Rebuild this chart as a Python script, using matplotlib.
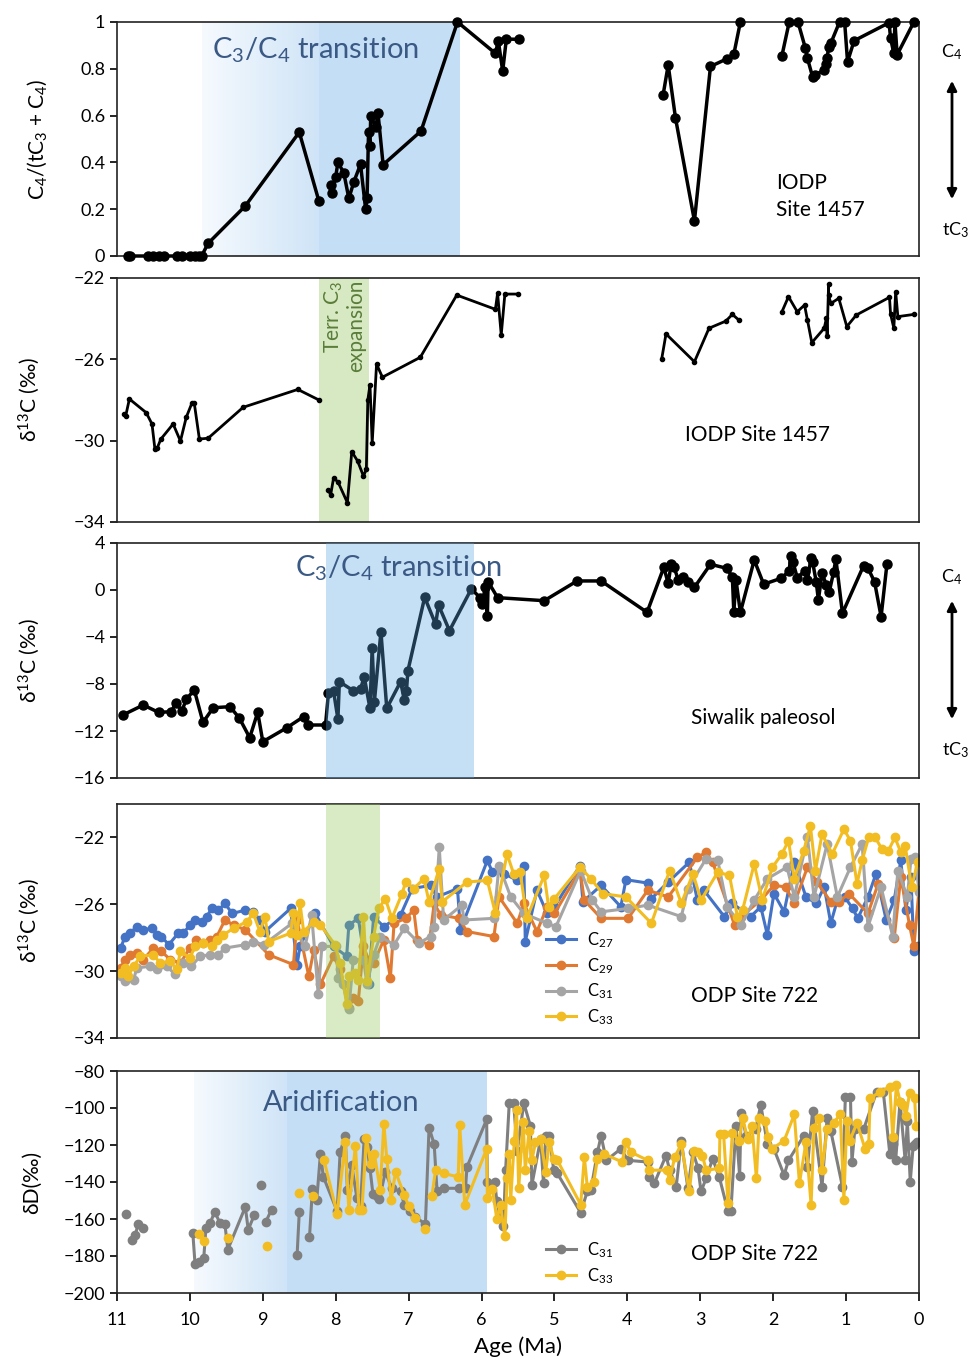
import numpy as np
import matplotlib
matplotlib.use("Agg")
import matplotlib.pyplot as plt
from matplotlib.colors import LinearSegmentedColormap

nan = np.nan

# --- panel 1: C4/(tC3+C4), IODP Site 1457 ---
p1_age = [10.85, 10.82, 10.57, 10.50, 10.43, 10.36, 10.18, 10.11, 10.00, 9.93,
          9.88, 9.84, 9.75, 9.24, 8.50, 8.23, nan, 8.07, 8.05, 8.00,
          7.97, 7.89, 7.82, 7.75, 7.66, 7.59, 7.57, 7.55, 7.53, 7.52,
          7.45, 7.42, 7.35, 6.83, 6.33, 5.81, 5.77, 5.71, 5.66, 5.49,
          nan, 3.51, 3.44, 3.34, 3.08, 2.86, 2.64, 2.54, 2.45, nan,
          1.88, 1.78, 1.66, 1.56, 1.53, 1.46, 1.43, 1.30, 1.27, 1.26,
          1.24, 1.21, 1.09, 1.02, 0.98, 0.89, 0.41, 0.39, 0.345, 0.33,
          0.30, 0.07]
p1_frac = [0, 0, 0, 0, 0, 0, 0, 0, 0, 0,
           0, 0, 0.054, 0.214, 0.529, 0.234, nan, 0.303, 0.268, 0.339,
           0.40, 0.356, 0.246, 0.318, 0.392, 0.20, 0.25, 0.53, 0.47, 0.60,
           0.55, 0.61, 0.39, 0.534, 1.0, 0.866, 0.92, 0.79, 0.927, 0.926,
           nan, 0.688, 0.816, 0.59, 0.15, 0.81, 0.842, 0.862, 1.0, nan,
           0.856, 1.0, 1.0, 0.89, 0.845, 0.766, 0.773, 0.795, 0.82, 0.845,
           0.894, 0.909, 1.0, 1.0, 0.83, 0.92, 0.997, 0.93, 0.866, 1.0,
           0.86, 1.0]

# --- panel 2: d13C, IODP Site 1457 ---
p2_age = [10.90, 10.88, 10.83, 10.60, 10.52, 10.48, 10.45, 10.40, 10.23, 10.13,
          10.05, 9.97, 9.94, 9.87, 9.75, 9.27, 8.52, 8.23, nan, 8.10,
          8.07, 8.03, 7.97, 7.84, 7.78, 7.70, 7.62, 7.58, 7.56, 7.53,
          7.50, 7.44, 7.36, 6.84, 6.34, 5.81, 5.78, 5.73, 5.68, 5.50,
          nan, 3.53, 3.47, 3.08, 2.88, 2.65, 2.56, 2.47, nan, 1.88,
          1.79, 1.67, 1.57, 1.53, 1.47, 1.30, 1.27, 1.26, 1.24, 1.24,
          1.21, 1.10, 0.99, 0.86, 0.405, 0.39, 0.345, 0.32, 0.29, 0.07]
p2_d13c = [-28.70, -28.77, -27.95, -28.62, -29.18, -30.41, -30.38, -29.93, -29.18, -30.02,
           -28.85, -28.13, -28.16, -29.92, -29.88, -28.36, -27.48, -28.0, nan, -32.43,
           -32.67, -31.85, -32.02, -33.05, -30.54, -31.0, -31.74, -31.41, -28.0, -27.26,
           -30.13, -26.23, -26.88, -25.90, -22.84, -23.54, -22.75, -24.80, -22.79, -22.79,
           nan, -26.0, -24.75, -26.12, -24.47, -24.12, -23.79, -24.07, nan, -23.66,
           -22.92, -23.66, -23.33, -24.07, -25.18, -24.47, -23.98, -24.85, -22.30, -22.84,
           -23.25, -23.0, -24.39, -23.82, -22.95, -23.77, -24.47, -22.67, -23.90, -23.79]

# --- panel 3: d13C, Siwalik paleosol ---
p3_age = [10.92, 10.64, 10.43, 10.26, 10.19, 10.11, 10.05, 9.94, 9.82, 9.68,
          9.45, 9.32, 9.18, 9.07, 9.00, 8.67, 8.44, 8.38, 8.14, 8.10,
          8.03, 7.97, 7.95, 7.76, 7.66, 7.61, 7.53, 7.50, 7.47, 7.38,
          7.30, 7.11, 7.06, 7.03, 7.01, 6.78, 6.63, 6.59, 6.44, 6.14,
          6.02, 5.99, 5.95, 5.92, 5.91, 5.78, 5.14, 4.69, 4.36, 3.73,
          3.50, 3.44, 3.40, 3.36, 3.30, 3.24, 3.17, 3.08, 2.86, 2.64,
          2.56, 2.54, 2.51, 2.45, 2.26, 2.13, 1.89, 1.78, 1.76, 1.73,
          1.67, 1.57, 1.53, 1.48, 1.46, 1.41, 1.38, 1.33, 1.27, 1.23,
          1.17, 1.14, 1.05, 0.76, 0.70, 0.61, 0.52, 0.44]
p3_d13c = [-10.64, -9.79, -10.41, -10.36, -9.64, -10.30, -9.30, -8.51, -11.26, -10.02,
           -9.93, -10.92, -12.57, -10.41, -12.91, -11.72, -10.78, -11.49, -11.49, -8.79,
           -8.60, -10.98, -7.80, -8.57, -8.45, -7.38, -10.07, -4.91, -9.51, -3.55,
           -10.07, -7.80, -9.36, -8.60, -6.87, -0.62, -2.92, -1.28, -3.46, 0.09,
           -0.65, -1.22, 0.28, -2.19, 0.71, -0.65, -0.91, 0.77, 0.77, -1.90,
           1.93, 0.57, 2.19, 1.93, 0.85, 1.13, 0.71, 0.23, 2.19, 1.85,
           1.13, -1.90, 0.85, -1.90, 2.55, 0.49, 1.00, 1.62, 2.92, 2.41,
           1.05, 1.62, 0.85, 2.75, 2.41, 0.71, -0.85, 1.42, 0.43, -0.14,
           1.56, 2.64, -1.98, 2.07, 1.85, 0.71, -2.27, 2.19]

# --- panel 4: leaf wax d13C, ODP Site 722 ---
c27_age = [10.95, 10.89, 10.82, 10.73, 10.64, 10.52, 10.45, 10.39, 10.29, 10.16,
           10.09, 10.00, 9.93, 9.84, 9.77, 9.70, 9.61, 9.52, 9.42, 9.24,
           9.13, 9.04, 8.97, 8.62, 8.53, 8.49, 8.28, 8.03, 7.85, 7.82,
           7.69, 7.55, 7.48, 7.34, 7.11, 6.95, 6.70, 6.61, 6.33, 6.29,
           5.92, 5.85, 5.69, 5.51, 5.42, 5.40, 5.24, 5.10,
           5.00, 4.65, 4.61, 4.36, 4.09, 4.02, 3.72, 3.67, 3.44, 3.15,
           3.04, 2.95, 2.67, 2.56, 2.31, 2.17, 2.08, 1.99, 1.85, 1.71,
           1.55, 1.41, 1.30, 1.21, 1.12, 1.02, 0.91, 0.84, 0.70, 0.59,
           0.45, 0.34, 0.25, 0.18, 0.11, 0.07, 0.02]
c27_d13c = [-28.62, -27.93, -27.73, -27.34, -27.53, -27.43, -27.83, -27.93, -28.42, -27.73,
            -27.73, -27.24, -26.94, -27.04, -26.74, -26.25, -26.35, -25.95, -26.55, -26.35,
            -26.45, -26.94, -27.63, -26.25, -29.61, -28.52, -26.55, -28.52, -29.11, -27.24,
            -26.84, -30.79, -26.74, -27.34, -26.64, -25.06, -24.87, -25.56, -25.06, -27.53,
            -23.38, -24.08, -24.17, -24.57, -23.68, -28.23, -25.16, -26.55,
            -26.15, -23.68, -25.85, -24.87, -26.15, -24.53, -24.73, -25.66, -24.67, -23.48,
            -25.75, -25.16, -26.74, -25.95, -26.74, -26.15, -27.83, -25.36, -26.45, -23.48,
            -25.56, -25.95, -24.96, -27.14, -25.75, -25.56, -26.25, -26.84, -25.56, -24.17,
            -26.94, -25.75, -23.38, -26.35, -24.37, -28.82, -28.52]

c29_age = [10.95, 10.89, 10.82, 10.73, 10.64, 10.50, 10.39, 10.27, 10.13, 10.00,
           9.91, 9.82, 9.73, 9.63, 9.52, 9.40, 9.24, 8.92, 8.58, 8.53,
           8.37, 8.30, 8.21, 8.03, 7.94, 7.82, 7.76, 7.69, 7.62, 7.55,
           7.48, 7.34, 7.25, 7.20, 7.04, 6.93, 6.88, 6.72, 6.65, 6.56,
           6.31, 6.20, 5.83, 5.76, 5.51, 5.42, 5.24, 5.10,
           5.00, 4.65, 4.59, 4.36, 3.99, 3.72, 3.44, 3.04, 2.92, 2.83,
           2.53, 2.44, 2.17, 1.99, 1.83, 1.71, 1.53, 1.40, 1.21, 1.10,
           0.96, 0.70, 0.56, 0.34, 0.25, 0.13, 0.07, 0.00]
c29_d13c = [-29.81, -29.31, -29.02, -28.92, -29.31, -28.62, -28.82, -29.31, -29.51, -28.62,
            -28.13, -28.32, -28.13, -27.93, -26.94, -27.24, -27.53, -29.02, -29.61, -26.94,
            -30.30, -28.72, -30.79, -29.11, -29.90, -32.18, -31.58, -31.78, -28.52, -29.31,
            -29.51, -28.13, -30.40, -27.14, -26.84, -26.35, -28.13, -28.42, -25.95, -26.64,
            -26.84, -27.63, -27.93, -25.56, -27.14, -25.95, -27.63, -26.15,
            -26.55, -23.98, -25.75, -26.84, -26.84, -25.16, -25.56, -23.19, -22.89, -23.48,
            -27.24, -26.74, -25.75, -24.87, -24.96, -25.95, -23.78, -24.67, -25.85, -25.85,
            -25.36, -26.55, -24.77, -28.03, -24.37, -27.24, -28.52, -25.16]

c31_age = [10.95, 10.89, 10.77, 10.73, 10.55, 10.45, 10.32, 10.20, 10.09, 9.98,
           9.86, 9.73, 9.61, 9.52, 9.24, 9.13, 8.99, 8.60, 8.42, 8.33,
           8.24, 8.19, 7.99, 7.97, 7.90, 7.82, 7.76, 7.62, 7.57, 7.48,
           7.39, 7.20, 7.06, 6.86, 6.70, 6.65, 6.58, 6.52, 6.27, 6.24,
           5.83, 5.76, 5.60, 5.42, 5.10,
           4.98, 4.64, 4.48, 4.36, 3.99, 3.72, 3.26, 3.17, 2.92, 2.76,
           2.63, 2.44, 2.26, 2.08, 1.81, 1.71, 1.53, 1.44, 1.26, 1.12,
           0.94, 0.78, 0.70, 0.52, 0.36, 0.29, 0.16, 0.11, 0.05, 0.00]
c31_d13c = [-30.30, -30.60, -30.50, -29.81, -29.71, -29.90, -29.71, -30.20, -29.51, -29.71,
            -29.11, -29.02, -29.02, -28.62, -28.42, -28.23, -28.42, -27.14, -28.52, -26.64,
            -31.39, -28.52, -28.52, -30.40, -30.79, -32.28, -29.31, -29.31, -30.79, -29.02,
            -27.93, -28.42, -27.43, -28.32, -27.93, -27.34, -22.59, -26.94, -26.05, -26.94,
            -26.84, -23.68, -25.56, -26.55, -27.14,
            -27.34, -23.98, -25.75, -26.45, -26.25, -26.05, -26.74, -25.06, -23.28, -23.38,
            -26.15, -27.24, -25.75, -24.47, -23.78, -25.56, -22.00, -25.56, -22.40, -25.56,
            -23.78, -22.40, -27.34, -24.96, -27.93, -23.98, -25.56, -23.28, -23.19, -25.26]

c33_age = [10.95, 10.89, 10.85, 10.77, 10.68, 10.50, 10.41, 10.27, 10.18, 10.13,
           10.00, 9.93, 9.82, 9.70, 9.63, 9.54, 9.40, 9.22, 9.13, 9.04,
           8.97, 8.92, 8.62, 8.58, 8.53, 8.49, 8.44, 8.30, 8.21, 8.01,
           7.94, 7.85, 7.82, 7.74, 7.69, 7.62, 7.57, 7.48, 7.41, 7.32,
           7.23, 7.09, 7.04, 6.93, 6.79, 6.72, 6.58, 6.54, 6.20, 5.92,
           5.81, 5.65, 5.56, 5.47, 5.38, 5.14, 5.08,
           5.00, 4.65, 4.50, 4.34, 4.02, 3.67, 3.42, 3.26, 3.10, 2.99,
           2.76, 2.60, 2.49, 2.42, 2.26, 2.15, 2.01, 1.88, 1.79, 1.71,
           1.58, 1.49, 1.42, 1.33, 1.19, 1.03, 0.94, 0.85, 0.78, 0.69,
           0.60, 0.51, 0.42, 0.33, 0.25, 0.19, 0.10, 0.02]
c33_d13c = [-30.10, -29.81, -30.30, -29.71, -29.11, -29.02, -29.51, -29.41, -29.90, -28.82,
            -29.21, -28.52, -28.32, -28.52, -28.13, -27.83, -27.43, -27.04, -26.55, -27.63,
            -26.74, -28.23, -27.73, -26.55, -27.83, -25.95, -27.63, -27.04, -27.24, -28.42,
            -29.51, -31.98, -30.30, -30.10, -30.50, -26.74, -30.60, -27.93, -26.25, -25.66,
            -26.84, -25.36, -24.67, -25.06, -24.47, -25.85, -23.88, -25.85, -24.67, -24.57,
            -26.55, -22.99, -24.17, -24.08, -26.84, -24.27, -26.15,
            -25.66, -23.78, -24.47, -25.36, -25.56, -27.14, -23.98, -25.95, -24.17, -25.75,
            -24.08, -24.27, -26.74, -26.35, -23.58, -25.75, -23.78, -22.99, -22.20, -24.47,
            -22.79, -21.31, -23.98, -21.80, -22.99, -21.51, -22.20, -24.77, -23.38, -22.00,
            -22.00, -22.69, -22.79, -22.00, -22.89, -22.50, -24.96, -23.48]

# --- panel 5: leaf wax dD, ODP Site 722 ---
d31_age = [10.88, nan, 10.80, 10.75, 10.71, 10.65, nan,
           9.96, 9.93, 9.88, 9.81, 9.78, 9.72, 9.66, 9.59, 9.52, 9.48, 9.24, 9.20, 9.12, nan,
           9.03, nan, 8.96, 8.88, nan, 8.53, 8.50, nan,
           8.36, 8.32, 8.26, 8.21, 8.17, 7.98, 7.94, 7.87, 7.84, 7.78,
           7.71, 7.66, 7.61, 7.57, 7.53, 7.49, 7.44, 7.40, 7.32, 7.23,
           7.11, 7.06, 6.98, 6.91, 6.77, 6.72, 6.65, 6.61, 6.52, 6.31,
           6.22, 6.20, 5.93, 5.92, 5.82, 5.79, 5.75, 5.70, 5.67, 5.62,
           5.56, 5.51, 5.42, 5.33, 5.31, 5.19, 5.15, 5.12, 5.07, 5.01,
           4.96, 4.64, 4.55, 4.50, 4.41, 4.36, 4.29, 4.09, 3.99, 3.72,
           3.70, 3.63, 3.47, 3.42, 3.33, 3.26, 3.17, 3.10, 3.03, 2.99,
           2.92, 2.83, 2.74, 2.62, 2.58, 2.51, 2.46, 2.44, 2.37, 2.24,
           2.17, 2.08, 1.99, 1.85, 1.79, 1.58, 1.53, 1.46, 1.33, 1.26,
           1.21, 1.05, 1.01, 0.94, 0.92, 0.88, 0.76, 0.58, 0.49, 0.40,
           0.36, 0.32, 0.26, 0.19, 0.16, 0.12, 0.08, 0.05, 0.03]
d31_dD = [-157.2, nan, -171.2, -168.7, -162.8, -165.0, nan,
          -167.6, -184.1, -183.2, -181.1, -164.6, -162.0, -156.1, -162.0, -162.8, -176.5, -153.5, -165.8, -158.1, nan,
          -141.6, nan, -161.6, -154.9, nan, -179.6, -156.3, nan,
          -169.9, -143.9, -149.6, -124.8, -137.2, -155.8, -123.9, -115.0, -144.2, -131.0,
          -148.7, -153.1, -116.8, -121.2, -132.7, -146.4, -147.8, -149.2, -134.5, -143.4,
          -145.1, -152.2, -155.8, -158.8, -162.8, -110.6, -119.5, -145.1, -143.4, -143.4,
          -143.4, -131.9, -106.2, -139.8, -139.8, -150.4, -157.5, -163.7, -133.6, -97.3,
          -97.3, -123.0, -97.3, -109.7, -141.6, -116.8, -140.7, -115.0, -115.0, -133.6,
          -135.4, -156.6, -145.1, -144.2, -123.9, -115.0, -128.3, -122.1, -128.3, -129.2,
          -137.2, -140.7, -125.7, -133.6, -142.5, -117.7, -143.4, -123.9, -132.7, -145.1,
          -138.1, -127.4, -137.2, -155.8, -155.8, -109.7, -136.8, -102.7, -115.0, -111.5,
          -98.2, -119.5, -122.1, -136.3, -128.3, -115.0, -131.9, -101.8, -142.5, -105.3,
          -112.4, -142.5, -93.8, -93.8, -129.2, -111.5, -111.5, -91.2, -91.2, -124.8,
          -119.5, -128.3, -96.5, -128.3, -107.1, -139.8, -120.4, -119.5, -118.6]

d33_age = [9.87, 9.81, nan, 9.48, nan, 8.94, nan, 8.50, nan, 8.31, nan,
           8.16, 7.98, 7.87, 7.82, 7.73, 7.68, 7.64, 7.58, 7.52, 7.47,
           7.39, 7.34, 7.30, 7.24, 7.18, 7.06, 7.00, 6.91, nan, 6.77, nan,
           6.68, 6.63, 6.52, 6.32, 6.30, 6.23, 5.93, 5.92, 5.85, 5.79,
           5.74, 5.68, 5.65, 5.62, 5.60, 5.55, 5.52, 5.49, 5.43, 5.40,
           5.35, 5.31, 5.26, 5.19, 5.12, 5.07, 5.01, 4.96, 4.64, 4.59,
           4.55, 4.46, 4.41, 4.32, 4.07, 4.02, 3.95, 3.72, 3.70, 3.46,
           3.42, 3.35, 3.26, 3.15, 3.09, 3.03, 2.97, 2.92, 2.74, 2.73,
           2.68, 2.62, 2.56, 2.47, 2.42, 2.35, 2.29, 2.23, 2.19, 2.11,
           2.07, 2.02, 1.85, 1.71, 1.64, 1.55, 1.48, 1.44, 1.37, 1.33,
           1.26, 1.17, 1.08, 1.03, 0.99, 0.95, 0.85, 0.74, 0.69, 0.67,
           0.53, 0.40, 0.36, 0.31, 0.26, 0.22, 0.18, 0.13, 0.06, 0.04]
d33_dD = [-168.1, -172.0, nan, -170.3, nan, -174.7, nan, -146.0, nan, -147.8, nan,
          -128.3, -157.2, -118.6, -154.9, -120.4, -154.9, -154.9, -116.3, -130.1, -124.8,
          -144.2, -108.5, -127.4, -149.6, -134.5, -146.9, -153.1, -159.3, nan, -165.5, nan,
          -147.4, -133.3, -135.4, -137.2, -109.2, -152.2, -122.1, -148.7, -143.9, -160.2,
          -152.6, -169.4, -138.1, -124.8, -149.6, -117.7, -100.9, -143.4, -107.4, -133.6,
          -112.7, -128.3, -118.6, -116.8, -134.5, -118.6, -127.4, -128.3, -152.2, -126.5,
          -142.5, -139.8, -127.4, -124.8, -129.2, -118.6, -123.9, -128.3, -133.6, -133.6,
          -138.9, -126.5, -119.5, -145.1, -123.0, -123.9, -125.7, -133.6, -132.7, -114.2,
          -114.2, -151.3, -113.3, -117.7, -105.3, -116.8, -109.7, -138.1, -105.3, -107.1,
          -115.9, -122.1, -117.7, -103.5, -140.7, -118.6, -152.2, -110.6, -105.3, -133.6,
          -111.5, -108.0, -103.5, -149.6, -107.1, -117.7, -108.0, -122.1, -119.5, -94.7,
          -91.2, -88.5, -115.9, -87.6, -96.5, -98.2, -104.4, -92.0, -94.7, -109.7]

age_ticks = list(range(11, -1, -1))

# ---------------------------------------------------------------
plt.rcParams["font.family"] = ["Lato", "DejaVu Sans"]
plt.rcParams["mathtext.fontset"] = "custom"
plt.rcParams["mathtext.rm"] = "Lato"
plt.rcParams["mathtext.default"] = "regular"

W, H = 970, 1360
fig = plt.figure(figsize=(W / 100, H / 100), dpi=100)

TXT_BLUE = "#3a5a85"
BAND_BLUE = "#c4def5"


def box(top, bottom, left=117, right=919):
    return [left / W, 1 - bottom / H, (right - left) / W, (bottom - top) / H]


def fx(x):
    return x / W


def fy(y):
    return 1 - y / H


def style(ax, ylim, yticks, labels, ylabel, labx=-0.093):
    ax.set_xlim(11, 0)
    ax.set_ylim(*ylim)
    ax.set_yticks(yticks)
    ax.set_yticklabels(labels)
    ax.tick_params(axis="y", direction="out", length=5, width=1.2, labelsize=13)
    ax.tick_params(axis="x", bottom=False, labelbottom=False)
    for s in ax.spines.values():
        s.set_linewidth(1.2)
        s.set_color("#222222")
    ax.set_ylabel(ylabel, fontsize=15)
    ax.yaxis.set_label_coords(labx, 0.5)


def gradient_span(ax, x0, x1, c0, c1):
    cmap = LinearSegmentedColormap.from_list("grad", [c0, c1])
    y0, y1 = ax.get_ylim()
    ax.imshow(np.linspace(0, 1, 256)[None, :], extent=(x0, x1, y0, y1),
              cmap=cmap, aspect="auto", zorder=0, interpolation="bilinear")
    ax.set_xlim(11, 0)
    ax.set_ylim(y0, y1)


def minus(v):
    return str(v).replace("-", "\u2212")


# panel 1
ax1 = fig.add_axes(box(22, 256))
style(ax1, (0, 1), [0, 0.2, 0.4, 0.6, 0.8, 1], ["0", "0.2", "0.4", "0.6", "0.8", "1"],
      "C$_4$/(tC$_3$ + C$_4$)", labx=-0.085)
gradient_span(ax1, 9.84, 8.23, "#f6fafe", "#cfe4f7")
ax1.axvspan(8.23, 6.29, color=BAND_BLUE, lw=0, zorder=0)
ax1.plot(p1_age, p1_frac, "-o", color="black", lw=2.5, ms=6.5, clip_on=False, zorder=3)
ax1.text(8.28, 0.88, "C$_3$/C$_4$ transition", fontsize=21, color=TXT_BLUE,
         ha="center", va="center", zorder=4)
ax1.text(1.96, 0.255, "IODP\nSite 1457", fontsize=15, ha="left", va="center",
         linespacing=1.45)

# panel 2
ax2 = fig.add_axes(box(278, 522))
style(ax2, (-34, -22), [-22, -26, -30, -34], [minus(v) for v in [-22, -26, -30, -34]],
      "\u03b4$^{13}$C (\u2030)")
ax2.axvspan(8.235, 7.55, color="#d7e9c2", lw=0, zorder=0)
ax2.plot(p2_age, p2_d13c, "-o", color="black", lw=2.0, ms=3, clip_on=False, zorder=3)
ax2.text(7.88, -22.1, "Terr. C$_3$\nexpansion", rotation=90, fontsize=15,
         color="#5a7d3a", ha="center", va="top", multialignment="right",
         linespacing=1.05, zorder=4)
ax2.text(2.21, -29.7, "IODP Site 1457", fontsize=15, ha="center", va="center")

# panel 3
ax3 = fig.add_axes(box(543, 778))
style(ax3, (-16, 4), [4, 0, -4, -8, -12, -16], [minus(v) for v in [4, 0, -4, -8, -12, -16]],
      "\u03b4$^{13}$C (\u2030)")
ax3.plot(p3_age, p3_d13c, "-o", color="black", lw=2.5, ms=6.5, zorder=2)
ax3.axvspan(8.13, 6.11, color="#59a6e5", alpha=0.35, lw=0, zorder=3)
ax3.text(7.14, 1.85, "C$_3$/C$_4$ transition", fontsize=21, color=TXT_BLUE,
         ha="center", va="center", zorder=4)
ax3.text(2.13, -10.9, "Siwalik paleosol", fontsize=15, ha="center", va="center")

# panel 4
ax4 = fig.add_axes(box(804, 1038))
style(ax4, (-34, -20), [-22, -26, -30, -34], [minus(v) for v in [-22, -26, -30, -34]],
      "\u03b4$^{13}$C (\u2030)")
h27, = ax4.plot(c27_age, c27_d13c, "-o", color="#4472c4", lw=2.2, ms=6, label="C$_{27}$")
h29, = ax4.plot(c29_age, c29_d13c, "-o", color="#e07a32", lw=2.2, ms=6, label="C$_{29}$")
h31, = ax4.plot(c31_age, c31_d13c, "-o", color="#a5a5a5", lw=2.2, ms=6, label="C$_{31}$")
h33, = ax4.plot(c33_age, c33_d13c, "-o", color="#f2bd22", lw=2.2, ms=6, label="C$_{33}$")
ax4.axvspan(8.13, 7.39, color="#92c656", alpha=0.35, lw=0, zorder=3)
ax4.legend(handles=[h27, h29, h31, h33], loc="upper left", bbox_to_anchor=(0.52, 0.51),
           frameon=False, fontsize=12, handlelength=1.8, labelspacing=0.35,
           borderpad=0.2, handletextpad=0.7)
ax4.text(2.25, -31.5, "ODP Site 722", fontsize=15, ha="center", va="center")

# panel 5
ax5 = fig.add_axes(box(1071, 1293))
dd_ticks = [-80, -100, -120, -140, -160, -180, -200]
style(ax5, (-200, -80), dd_ticks, [minus(v) for v in dd_ticks], "\u03b4D(\u2030)")
gradient_span(ax5, 9.95, 8.67, "#f6fafe", "#cfe4f7")
ax5.axvspan(8.67, 5.93, color=BAND_BLUE, lw=0, zorder=0)
g31, = ax5.plot(d31_age, d31_dD, "-o", color="#7f7f7f", lw=2.2, ms=6, label="C$_{31}$")
g33, = ax5.plot(d33_age, d33_dD, "-o", color="#f2bd22", lw=2.2, ms=6, label="C$_{33}$")
ax5.text(7.93, -97.5, "Aridification", fontsize=21, color=TXT_BLUE, ha="center", va="center")
ax5.legend(handles=[g31, g33], loc="upper left", bbox_to_anchor=(0.52, 0.29),
           frameon=False, fontsize=12, handlelength=1.8, labelspacing=0.35,
           borderpad=0.2, handletextpad=0.7)
ax5.text(2.25, -179, "ODP Site 722", fontsize=15, ha="center", va="center")
ax5.set_xticks(age_ticks)
ax5.set_xticklabels([str(a) for a in age_ticks])
ax5.tick_params(axis="x", bottom=True, labelbottom=True, direction="out",
                length=6, width=1.2, labelsize=13, pad=8)
ax5.set_xlabel("Age (Ma)", fontsize=16, labelpad=6)

# right-hand direction arrows
for top_lbl, bot_lbl, ya, yb in [(52, 230, 78, 202), (577, 750, 598, 722)]:
    fig.text(fx(952), fy(top_lbl), "C$_4$", fontsize=13, ha="center", va="center")
    fig.text(fx(956), fy(bot_lbl), "tC$_3$", fontsize=13, ha="center", va="center")
    fig.patches.append(matplotlib.patches.FancyArrowPatch(
        (fx(952), fy(ya)), (fx(952), fy(yb)), transform=fig.transFigure,
        arrowstyle="<|-|>", mutation_scale=14, lw=2, color="black"))

fig.savefig("out.png", dpi=100)
